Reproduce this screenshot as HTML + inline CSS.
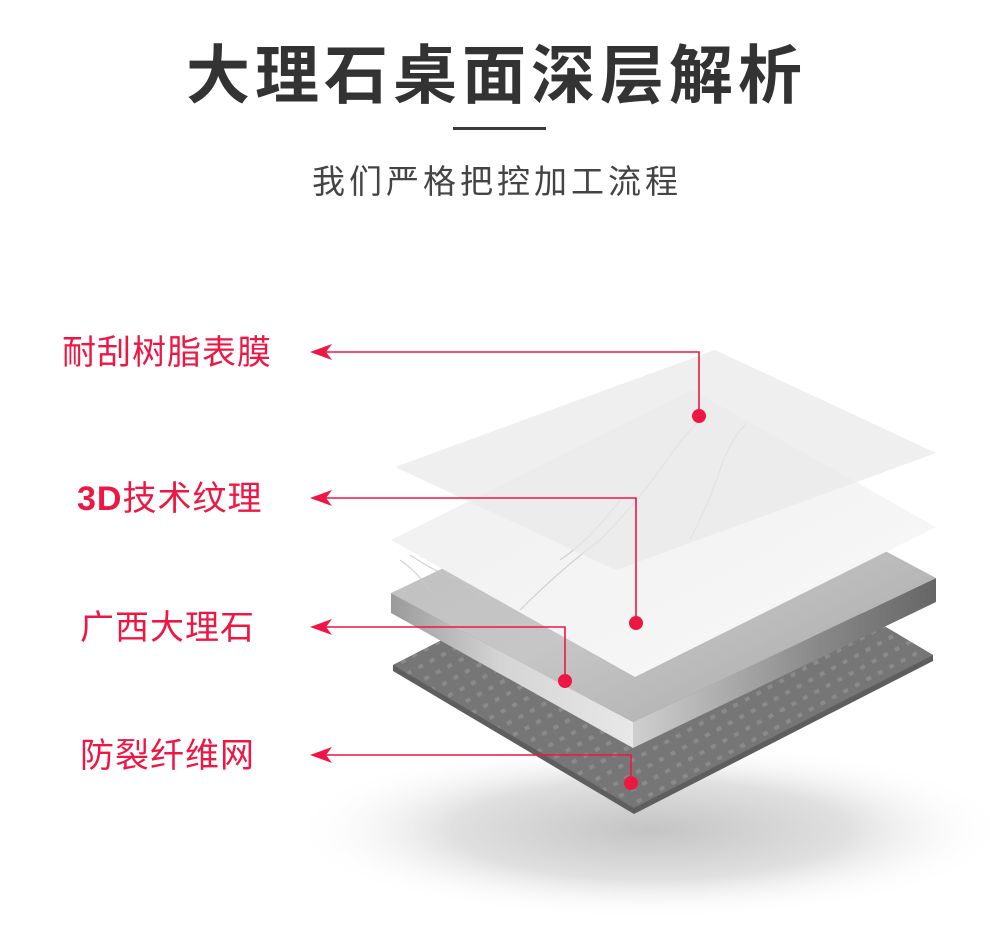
<!DOCTYPE html>
<html><head><meta charset="utf-8"><style>
html,body{margin:0;padding:0;background:#fff;}
body{width:990px;height:930px;overflow:hidden;position:relative;font-family:"Liberation Sans","Noto Sans CJK SC",sans-serif;}
.t{position:absolute;white-space:nowrap;}
</style></head><body>
<svg width="990" height="930" style="position:absolute;left:0;top:0">
<defs>
<radialGradient id="sh" cx="50%" cy="50%" r="50%">
<stop offset="0" stop-color="#c4c4c4"/><stop offset="0.55" stop-color="#e0e0e0"/><stop offset="1" stop-color="#fff" stop-opacity="0"/>
</radialGradient>
<pattern id="dots" width="13" height="13" patternUnits="userSpaceOnUse" patternTransform="rotate(-28)">
<rect width="13" height="13" fill="#767676"/><rect x="4" y="4" width="5" height="4" fill="#8a8a8a"/>
</pattern>
<linearGradient id="slabTop" x1="0" y1="0" x2="1" y2="1">
<stop offset="0" stop-color="#bdbdbd"/><stop offset="0.5" stop-color="#c6c6c6"/><stop offset="1" stop-color="#a5a5a5"/>
</linearGradient>
<linearGradient id="slabL" x1="0" y1="0" x2="1" y2="0">
<stop offset="0" stop-color="#9a9a9a"/><stop offset="0.45" stop-color="#d4d4d4"/><stop offset="1" stop-color="#e8e8e8"/>
</linearGradient>
<linearGradient id="slabR" x1="0" y1="0" x2="1" y2="0">
<stop offset="0" stop-color="#cfcfcf"/><stop offset="0.6" stop-color="#8a8a8a"/><stop offset="1" stop-color="#666"/>
</linearGradient>
<linearGradient id="marb" x1="0" y1="0" x2="1" y2="1">
<stop offset="0" stop-color="#efefef"/><stop offset="1" stop-color="#f8f8f8"/>
</linearGradient>
</defs>
<ellipse cx="650" cy="830" rx="360" ry="90" fill="url(#sh)"/>
<polygon points="393,665 692,512 933,655 933,661 634,814 393,671" fill="#5e5e5e"/>
<polygon points="393,665 692,512 933,655 634,808" fill="url(#dots)"/>
<polygon points="391,593 633,722 633,748 391,613" fill="url(#slabL)"/>
<polygon points="633,722 936,578 936,602 633,748" fill="url(#slabR)"/>
<polygon points="391,593 694,449 936,578 633,722" fill="url(#slabTop)"/>
<polygon points="391,540 692,390 936,527 635,677" fill="url(#marb)"/>
<g stroke="#c8c8c8" stroke-width="1.2" fill="none" opacity="0.8">
<path d="M410,555 q30,20 50,25 q20,10 35,30"/>
<path d="M520,610 q40,-40 80,-70 q30,-30 60,-70 q20,-30 40,-50"/>
<path d="M690,540 q20,-40 30,-70 q10,-30 25,-45"/>
<path d="M560,560 q30,-20 60,-60"/>
<path d="M400,560 q15,10 30,30"/>
</g>
<polygon points="395,467 715,350 936,453 616,570" fill="#e9e9e9" opacity="0.72"/>
<g stroke="#ee1744" stroke-width="1.6" fill="none">
<polyline points="318,352 699,352 699,416"/>
<polyline points="318,498 636,498 636,623"/>
<polyline points="318,627 565,627 565,681"/>
<polyline points="318,755 631,755 631,783"/>
</g>
<g fill="#ee1744">
<circle cx="699" cy="416" r="7"/><circle cx="636" cy="623" r="7"/><circle cx="565" cy="681" r="7"/><circle cx="631" cy="783" r="7"/>
<polygon points="310,352 332,344 326,352 332,360"/>
<polygon points="310,498 332,490 326,498 332,506"/>
<polygon points="310,627 332,619 326,627 332,635"/>
<polygon points="310,755 332,747 326,755 332,763"/>
</g>
<rect x="453" y="127" width="93" height="3" fill="#3a3a3a"/>
</svg>
<div class="t" style="left:186px;top:38px;font-size:64px;font-weight:bold;color:#333;letter-spacing:5px;line-height:76px;">大理石桌面深层解析</div>
<div class="t" style="left:312px;top:162px;font-size:33px;color:#444;letter-spacing:4px;line-height:40px;">我们严格把控加工流程</div>
<div class="t" style="left:62px;top:333px;font-size:34px;color:#ee1744;line-height:40px;letter-spacing:1px;">耐刮树脂表膜</div>
<div class="t" style="left:77px;top:479px;font-size:34px;color:#ee1744;line-height:40px;letter-spacing:1px;"><b>3D</b>技术纹理</div>
<div class="t" style="left:80px;top:608px;font-size:34px;color:#ee1744;line-height:40px;letter-spacing:1px;">广西大理石</div>
<div class="t" style="left:80px;top:736px;font-size:34px;color:#ee1744;line-height:40px;letter-spacing:1px;">防裂纤维网</div>
</body></html>
